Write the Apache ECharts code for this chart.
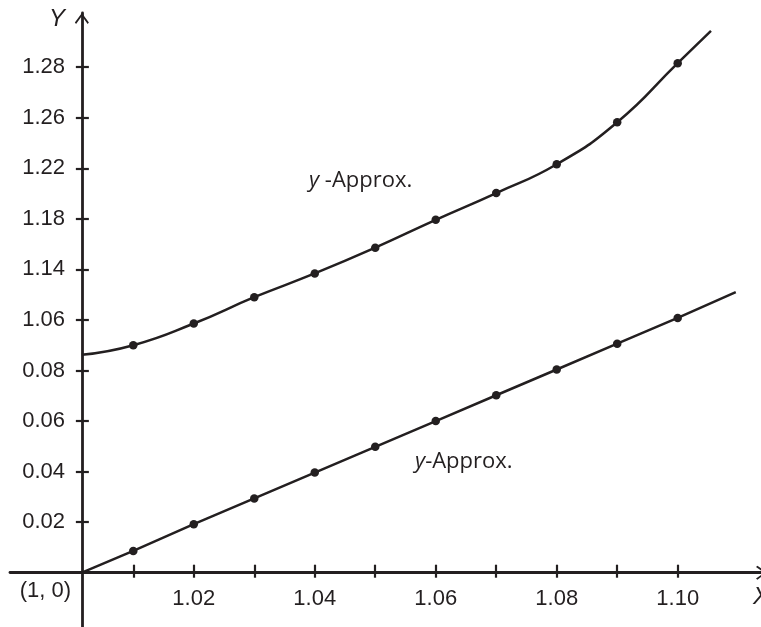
<!DOCTYPE html>
<html>
<head>
<meta charset="utf-8">
<script src="https://cdn.jsdelivr.net/npm/echarts@6/dist/echarts.min.js"></script>
<style>
html, body { margin: 0; padding: 0; background: #fff; }
#chart { width: 761px; height: 627px; }
</style>
</head>
<body>
<div id="chart"></div>
<script>
// x positions of the dots, and which of them get a label
var xTicks = [1.01, 1.02, 1.03, 1.04, 1.05, 1.06, 1.07, 1.08, 1.09, 1.10];
var xLabels = [1.02, 1.04, 1.06, 1.08, 1.10];
// the vertical axis has evenly spaced ticks carrying these labels
var yLabels = ['0.02', '0.04', '0.06', '0.08', '1.06', '1.14', '1.18', '1.22', '1.26', '1.28'];
// dot heights, in tick steps (1 = first tick above the x axis)
var upperY = [4.50, 4.93, 5.45, 5.92, 6.43, 6.98, 7.51, 8.08, 8.91, 10.08];
var lowerY = [0.43, 0.96, 1.47, 1.98, 2.49, 3.00, 3.51, 4.02, 4.53, 5.04];
// where each curve starts and stops (no dot there)
var upperEnds = [[1.0015, 4.31], [1.1055, 10.72]];
var lowerEnds = [[1.0015, 0], [1.1096, 5.55]];
// x under the vertical axis, visible x range, visible y range
var xOrigin = 1.0015;
var xRange = [0.98962, 1.11377];
var yRange = [-1.074, 11.072];

var ink = '#231f20';
var font = '"Liberation Sans", Arial, sans-serif';
var noteFont = '"Open Sans", "Liberation Sans", sans-serif';
var arrow = 'path://M0,0 L7,9.6 L5.8,11 L0,3 L-5.8,11 L-7,9.6 Z';
var tickIdx = yLabels.map(function (s, i) { return i + 1 });

function sx(x) { return +(x - xOrigin).toFixed(6) }
function curve(ys, ends) {
    var d = [{value: [sx(ends[0][0]), ends[0][1]], symbol: 'none'}];
    xTicks.forEach(function (x, i) { d.push([sx(x), ys[i]]) });
    d.push({value: [sx(ends[1][0]), ends[1][1]], symbol: 'none'});
    return d;
}
// two axes per direction: one carries ticks outside, the other inside, so ticks cross the line.
// v6 keeps labels at the grid edge even with onZero, hence the negative margins.
function xAx(main) {
    return {
        type: 'value', position: 'bottom', min: sx(xRange[0]), max: sx(xRange[1]),
        axisLine: {show: true, onZero: true, onZeroAxisIndex: 0,
            symbol: main ? ['none', arrow] : 'none', symbolSize: [14, 11], symbolOffset: [0, 0.5],
            lineStyle: {color: ink, width: 2.8, opacity: main ? 1 : 0}},
        axisTick: {show: true, inside: !main, length: main ? 5 : 8, customValues: xTicks.map(sx),
            lineStyle: {color: ink, width: 2.2}},
        axisLabel: {show: main, customValues: xLabels.map(sx), margin: -39.5,
            formatter: function (v) { return (v + xOrigin).toFixed(2) },
            color: ink, fontSize: 22, fontFamily: font},
        splitLine: {show: false}
    };
}
function yAx(main) {
    return {
        type: 'value', position: 'left', min: yRange[0], max: yRange[1],
        axisLine: {show: true, onZero: true, onZeroAxisIndex: 0,
            symbol: main ? ['none', arrow] : 'none', symbolSize: [14, 11], symbolOffset: [0, -5.5],
            lineStyle: {color: ink, width: 2.8, opacity: main ? 1 : 0}},
        axisTick: {show: true, inside: !main, length: main ? 6 : 7, customValues: tickIdx,
            lineStyle: {color: ink, width: 2.2}},
        axisLabel: {show: main, customValues: tickIdx, margin: -55,
            formatter: function (v) { return yLabels[Math.round(v) - 1] },
            color: ink, fontSize: 22, fontFamily: font},
        splitLine: {show: false}
    };
}
function note(x, y, text, align, size, fam, italic) {
    var style = {text: text, x: x, y: y, align: align, verticalAlign: 'middle', fill: ink,
        font: (italic ? 'italic ' : '') + size + 'px ' + fam,
        rich: {i: {fontStyle: 'italic', fontSize: size, fontFamily: fam, fill: ink}}};
    return {type: 'text', silent: true, style: style};
}

var chart = echarts.init(document.getElementById('chart'));
chart.setOption({
    animation: false,
    grid: {left: 10, right: 0, top: 13, bottom: 0, containLabel: false, outerBoundsMode: 'none'},
    xAxis: [xAx(true), xAx(false)],
    yAxis: [yAx(true), yAx(false)],
    series: [{
        type: 'line', data: curve(upperY, upperEnds), smooth: 0.5,
        symbol: 'circle', symbolSize: 8.5, itemStyle: {color: ink}, lineStyle: {color: ink, width: 2.5}
    }, {
        type: 'line', data: curve(lowerY, lowerEnds),
        symbol: 'circle', symbolSize: 8.5, itemStyle: {color: ink}, lineStyle: {color: ink, width: 2.5}
    }],
    graphic: [
        note(57, 19, 'Y', 'center', 24, font, true),
        note(753, 597, 'X', 'left', 24, font, true),
        note(71, 591, '(1, 0)', 'right', 22, font),
        note(309, 181, '{i|y} -Approx.', 'left', 22, noteFont),
        note(415, 462, '{i|y}-Approx.', 'left', 22, noteFont)
    ]
});
</script>
</body>
</html>
